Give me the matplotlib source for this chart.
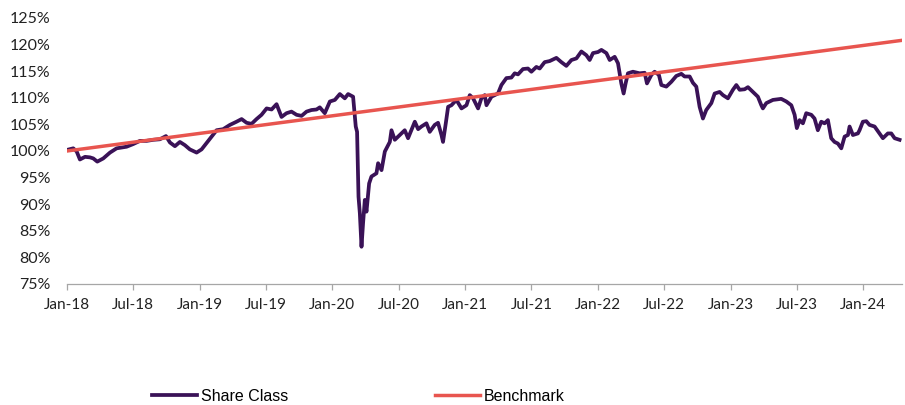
import matplotlib.pyplot as plt
from matplotlib.ticker import FuncFormatter

# months since Jan-2018
share_months = [
    0.00, 0.57, 0.88, 1.17, 1.63, 2.08, 2.38, 2.74, 3.28, 3.89, 4.49, 5.39,
    5.99, 6.60, 7.20, 7.80, 8.40, 8.95, 9.31, 9.76, 10.21, 10.66, 11.11, 11.72,
    12.17, 12.47, 13.08, 13.53, 14.12, 14.73, 15.33, 15.79, 16.24, 16.69, 17.14,
    17.59, 18.05, 18.50, 18.95, 19.40, 19.85, 20.30, 20.76, 21.21, 21.66, 22.11,
    22.56, 22.86, 23.31, 23.77, 24.22, 24.67, 25.12, 25.42, 25.87, 26.11, 26.23,
    26.36, 26.48, 26.63, 26.77, 26.93, 27.08, 27.32, 27.53, 27.98, 28.13, 28.44,
    28.74, 29.19, 29.34, 29.64, 30.09, 30.54, 30.84, 31.45, 31.75, 32.05, 32.50,
    32.80, 33.25, 33.55, 33.86, 34.00, 34.25, 34.46, 34.76, 35.21, 35.67, 36.12,
    36.42, 36.72, 37.17, 37.47, 37.77, 37.93, 38.38, 38.97, 39.28, 39.73, 40.18,
    40.48, 40.78, 41.23, 41.68, 41.99, 42.44, 42.74, 43.19, 43.64, 44.25, 44.70,
    45.15, 45.61, 46.06, 46.51, 46.96, 47.26, 47.56, 48.01, 48.32, 48.77, 49.07,
    49.52, 49.82, 50.12, 50.33, 50.51, 50.72, 51.17, 51.78, 52.23, 52.44, 52.84,
    53.13, 53.52, 53.74, 54.19, 54.64, 55.09, 55.55, 55.84, 56.30, 56.60, 56.90,
    57.20, 57.50, 57.80, 58.26, 58.56, 59.01, 59.31, 59.76, 60.21, 60.52, 60.82,
    61.27, 61.57, 62.02, 62.47, 62.78, 62.92, 63.23, 63.83, 64.58, 65.04, 65.49,
    65.79, 65.99, 66.24, 66.54, 66.84, 67.30, 67.59, 67.89, 68.20, 68.50, 68.80,
    69.10, 69.40, 69.70, 70.01, 70.31, 70.61, 70.76, 71.06, 71.51, 71.66, 71.96,
    72.27, 72.56, 73.02, 73.47, 73.77, 74.22, 74.53, 74.83, 75.28,
]
share_values = [
    100.2, 100.5, 99.9, 98.4, 98.9, 98.8, 98.6, 98.0, 98.6, 99.7, 100.5, 100.8,
    101.3, 101.9, 101.9, 102.1, 102.2, 102.8, 101.6, 100.9, 101.7, 101.1, 100.3, 99.7,
    100.3, 101.1, 102.7, 103.9, 104.1, 104.9, 105.5, 106.0, 105.3, 105.1, 106.0,
    106.8, 108.0, 107.8, 108.8, 106.4, 107.1, 107.4, 106.8, 106.6, 107.4, 107.7,
    107.8, 108.2, 107.1, 109.3, 109.6, 110.7, 109.9, 110.7, 110.2, 104.6, 103.6,
    91.4, 88.3, 82.0, 86.4, 90.8, 88.6, 93.9, 95.2, 95.8, 97.7, 96.4,
    99.9, 101.7, 103.9, 102.1, 103.0, 103.9, 102.4, 105.5, 104.1, 104.6, 105.2,
    103.6, 104.9, 105.3, 103.0, 101.7, 105.2, 108.3, 108.6, 109.6, 108.0, 108.6,
    110.5, 109.9, 108.0, 109.9, 110.5, 108.6, 110.2, 110.8, 112.4, 113.7, 113.8,
    114.6, 114.4, 115.4, 115.5, 114.9, 115.8, 115.5, 116.7, 116.9, 117.5, 116.7,
    116.0, 117.1, 117.4, 118.7, 118.0, 117.1, 118.4, 118.6, 119.0, 118.4, 117.1,
    117.7, 116.5, 112.7, 110.8, 112.7, 114.6, 114.9, 114.6, 114.7, 112.7, 114.3,
    114.9, 114.3, 112.4, 112.1, 113.0, 114.1, 114.5, 114.0, 114.0, 112.8, 112.1,
    108.3, 106.1, 107.7, 109.0, 110.8, 111.1, 110.5, 109.9, 111.5, 112.4, 111.5,
    111.6, 112.0, 111.1, 110.2, 108.6, 108.0, 109.0, 109.6, 109.8, 109.3, 108.6,
    106.8, 104.3, 105.8, 105.2, 107.1, 106.8, 106.1, 103.9, 105.5, 105.2, 105.8,
    102.4, 101.7, 101.4, 100.5, 102.7, 103.0, 104.6, 103.0, 103.3, 103.9, 105.5,
    105.6, 104.9, 104.6, 103.3, 102.4, 103.3, 103.3, 102.4, 102.1,
]

bench_months = [0.0, 75.5]
bench_values = [100.0, 120.8]

tick_months = [0, 6, 12, 18, 24, 30, 36, 42, 48, 54, 60, 66, 72]
tick_labels = ["Jan-18", "Jul-18", "Jan-19", "Jul-19", "Jan-20", "Jul-20", "Jan-21",
               "Jul-21", "Jan-22", "Jul-22", "Jan-23", "Jul-23", "Jan-24"]

plt.rcParams["font.family"] = ["Lato", "DejaVu Sans"]

fig = plt.figure(figsize=(9.05, 4.05), dpi=100)
ax = fig.add_axes([0.074, 0.2988, 0.9227, 0.6568])

ax.plot(share_months, share_values, color="#3a1257", lw=2.7, label="Share Class")
ax.plot(bench_months, bench_values, color="#e8554f", lw=2.5, label="Benchmark")

ax.set_xlim(0, 75.5)
ax.set_ylim(75, 125)
ax.set_yticks(range(75, 126, 5))
ax.yaxis.set_major_formatter(FuncFormatter(lambda v, p: f"{v:.0f}%"))
ax.set_xticks(tick_months)
ax.set_xticklabels(tick_labels)

for s in ["top", "right", "left"]:
    ax.spines[s].set_visible(False)
ax.spines["bottom"].set_color("#a6a6a6")
ax.spines["bottom"].set_linewidth(0.9)

ax.tick_params(axis="y", length=0, pad=12, labelsize=11.5, labelcolor="#222222")
ax.tick_params(axis="x", length=4, width=0.9, color="#a6a6a6", pad=6,
               labelsize=11, labelcolor="#222222")

fig.legend(loc="center", bbox_to_anchor=(0.396, 0.022), ncol=2, frameon=False,
           handlelength=2.8, handletextpad=0.25, columnspacing=9.2,
           prop={"family": ["Liberation Sans"], "size": 11.5})

fig.savefig("out.png", dpi=100)
